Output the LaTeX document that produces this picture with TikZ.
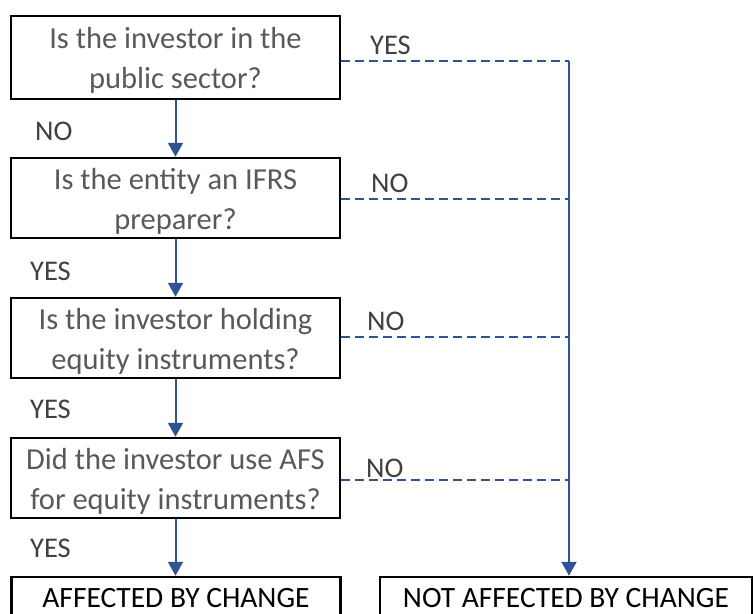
\documentclass[tikz,border=0pt]{standalone}
\usepackage{fontspec}
\setmainfont{Carlito}
\usetikzlibrary{arrows.meta}
\definecolor{flowblue}{HTML}{2F5496}
\definecolor{asktext}{HTML}{595959}
\definecolor{answertext}{HTML}{404040}
% taller first line, pushes the question text a little down in its box
\newcommand{\qlift}{\rule{0pt}{27pt}}

\begin{document}
\begin{tikzpicture}[
        x=1pt, y=-1pt,
        question/.style={
            draw=black,
            line width=2.5pt,
            minimum width=329pt,
            minimum height=80pt,
            inner sep=0pt,
            align=center,
            text=asktext,
            font=\fontsize{30.5}{40}\selectfont,
        },
        outcome/.style={
            question,
            minimum height=43pt,
            text=black,
            font=\fontsize{29.5}{36}\selectfont,
        },
        answer/.style={
            anchor=base west,
            inner sep=0pt,
            text=answertext,
            font=\fontsize{28.5}{34}\selectfont,
        },
        flow/.style={draw=flowblue, line width=2pt, -{Triangle[width=15pt,length=14pt]}},
        skip/.style={draw=flowblue, line width=2pt, dash pattern=on 9pt off 5pt},
    ]
    \useasboundingbox (0,0) rectangle (754,613);
    \clip (0,0) rectangle (754,613);

    % questions down the left
    \node[question, minimum height=83pt] (q1) at (175.5,57.5) {\qlift Is the investor in the\\public sector?};
    \node[question] (q2) at (175.5,198) {\qlift Is the entity an IFRS\\preparer?};
    \node[question] (q3) at (175.5,338) {\qlift Is the investor holding\\equity instruments?};
    \node[question] (q4) at (175.5,478) {\qlift Did the investor use AFS\\for equity instruments?};

    % outcomes, running off the bottom edge
    \node[outcome] (aff) at (176,598.5) {AFFECTED BY CHANGE};
    \node[outcome, minimum width=372pt] (notaff) at (566,598.5) {NOT AFFECTED BY CHANGE};

    % joints on the exit line
    \coordinate (j1) at (569,61);
    \coordinate (j2) at (569,199);
    \coordinate (j3) at (569,337);
    \coordinate (j4) at (569,480);

    % main path
    \draw[flow] (q1) -- (q2);
    \draw[flow] (q2) -- (q3);
    \draw[flow] (q3) -- (q4);
    \draw[flow] (q4.south) -- (q4.south |- aff.north);

    % exits to the right
    \foreach \q/\j in {q1/j1,q2/j2,q3/j3,q4/j4}{
        \draw[skip] (\q.east |- \j) -- (\j);
    }
    \draw[flow] (j1) -- (j1 |- notaff.north);

    % answers
    \node[answer] (n1) at (35,140) {NO};
    \node[answer] (y2) at (30,280) {YES};
    \node[answer] (y3) at (30,418) {YES};
    \node[answer] (y4) at (30,557) {YES};
    \node[answer] (y1r) at (370,54) {YES};
    \node[answer] (n2r) at (371,192) {NO};
    \node[answer] (n3r) at (367,330) {NO};
    \node[answer] (n4r) at (366,477) {NO};
\end{tikzpicture}
\end{document}
